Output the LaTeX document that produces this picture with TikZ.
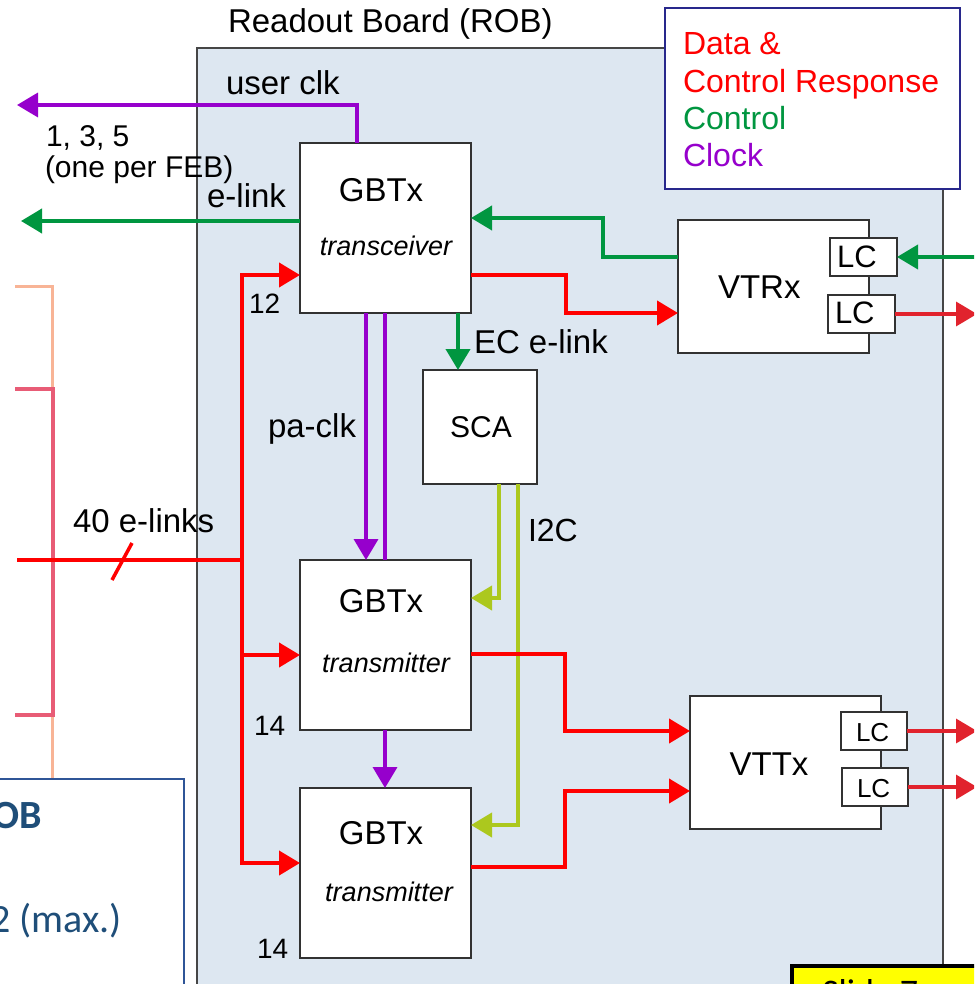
\documentclass[tikz,border=0pt]{standalone}
\usepackage{fontspec}
\setmainfont{Liberation Sans}
\newfontfamily\calfont{Carlito}
\usetikzlibrary{arrows.meta,calc}
\newcommand\myfs[1]{\fontsize{#1}{#1}\selectfont}
\definecolor{boardfill}{RGB}{221,231,241}
\definecolor{boardline}{RGB}{70,70,70}
\definecolor{boxline}{RGB}{50,50,50}
\definecolor{dred}{RGB}{255,0,0}
\definecolor{lcred}{RGB}{225,35,45}
\definecolor{dgreen}{RGB}{0,150,64}
\definecolor{dpurple}{RGB}{150,0,204}
\definecolor{ygreen}{RGB}{172,200,30}
\definecolor{legblue}{RGB}{40,40,140}
\definecolor{salmonb}{RGB}{248,180,150}
\definecolor{pinkb}{RGB}{232,92,118}
\definecolor{textblue}{RGB}{31,78,121}
\definecolor{boxblue}{RGB}{47,85,151}
\definecolor{yellowbox}{RGB}{255,255,0}
\tikzset{
  chip/.style={draw=boxline, fill=white, line width=1.8pt, inner sep=0pt, outer sep=0pt, anchor=north west},
  lbl/.style={inner sep=0pt, outer sep=0pt},
  arr/.style={-{Triangle[length=21pt,width=24pt]}},
  dataln/.style={draw=dred, line width=4pt},
  lcln/.style={draw=lcred, line width=3.5pt},
  ctrlln/.style={draw=dgreen, line width=4pt},
  clkln/.style={draw=dpurple, line width=3.6pt},
  i2cln/.style={draw=ygreen, line width=4pt},
}
\begin{document}
\begin{tikzpicture}[x=1pt,y=-1pt]
\useasboundingbox (0,0) rectangle (974,984);
\clip (0,0) rectangle (974,984);
\fill[white] (0,0) rectangle (974,984);

% left brackets
\draw[salmonb, line width=3pt] (15,286) -- (52,286) -- (52,990);
\draw[pinkb, line width=3.5pt] (15,389) -- (53,389) -- (53,715) -- (15,715);

% board
\node[name=board, draw=boardline, fill=boardfill, line width=1.5pt, anchor=north west,
      minimum width=746pt, minimum height=1000pt, inner sep=0pt, outer sep=0pt] at (197,48) {};
\node[lbl, name=boardlbl, anchor=base west, font=\myfs{33}] at (228,33) {Readout Board (ROB)};

% legend
\node[name=legend, draw=legblue, fill=white, line width=2pt, anchor=north west,
      minimum width=295pt, minimum height=181pt, inner sep=0pt] at (664,7) {};
\node[lbl, name=leg1, anchor=base west, font=\myfs{32}, text=dred] at (683,55) {Data \&};
\node[lbl, name=leg2, anchor=base west, font=\myfs{32}, text=dred] at (683,93) {Control Response};
\node[lbl, name=leg3, anchor=base west, font=\myfs{32}, text=dgreen] at (683,130) {Control};
\node[lbl, name=leg4, anchor=base west, font=\myfs{32}, text=dpurple] at (683,167) {Clock};

% bottom-left box
\node[name=robbox, draw=boxblue, fill=white, line width=1.5pt, anchor=north west,
      minimum width=200pt, minimum height=300pt, inner sep=0pt] at (-17,778) {};
\node[lbl, name=robtxt, anchor=base east, font=\calfont\bfseries\myfs{40}, text=textblue] at (42,828) {ROB};
\node[lbl, name=maxtxt, anchor=base east, font=\calfont\myfs{40}, text=textblue] at (122,932) {12 (max.)};

% yellow box
\node[name=slide, draw=black, fill=yellowbox, line width=4pt, anchor=north west,
      minimum width=220pt, minimum height=60pt, inner sep=0pt] at (790,964) {};
\node[lbl, name=slidetxt, anchor=north west, font=\calfont\myfs{36}] at (822,979) {Slide 7};

% chips
\node[chip, name=gbt1, minimum width=171pt, minimum height=170pt] at (300,143) {};
\node[chip, name=gbt2, minimum width=171pt, minimum height=170pt] at (300,560) {};
\node[chip, name=gbt3, minimum width=171pt, minimum height=170pt] at (300,788) {};
\node[chip, name=sca, minimum width=114pt, minimum height=114pt] at (423,370) {};
\node[chip, name=vtrx, minimum width=191pt, minimum height=133pt] at (678,220) {};
\node[chip, name=lc1, minimum width=67pt, minimum height=38pt] at (830,238) {};
\node[chip, name=lc2, minimum width=67pt, minimum height=38pt] at (828,295) {};
\node[chip, name=vttx, minimum width=191pt, minimum height=133pt] at (690,696) {};
\node[chip, name=lc3, minimum width=66pt, minimum height=38pt] at (841,712) {};
\node[chip, name=lc4, minimum width=66pt, minimum height=38pt] at (842,768) {};

% chip texts
\node[lbl, name=g1a, anchor=base, font=\myfs{33}] at (381,202) {GBTx};
\node[lbl, name=g1b, anchor=base, font=\itshape\myfs{27}] at (386,255) {transceiver};
\node[lbl, name=g2a, anchor=base, font=\myfs{33}] at (381,612) {GBTx};
\node[lbl, name=g2b, anchor=base, font=\itshape\myfs{27}] at (386,672) {transmitter};
\node[lbl, name=g3a, anchor=base, font=\myfs{33}] at (381,844) {GBTx};
\node[lbl, name=g3b, anchor=base, font=\itshape\myfs{27}] at (389,901) {transmitter};
\node[lbl, name=scat, anchor=base, font=\myfs{30}] at (481,437) {SCA};
\node[lbl, name=vtrxt, anchor=base west, font=\myfs{33}] at (718,298) {VTRx};
\node[lbl, name=lc1t, anchor=base west, font=\myfs{31}] at (837,267) {LC};
\node[lbl, name=lc2t, anchor=base west, font=\myfs{31}] at (835,323) {LC};
\node[lbl, name=vttxt, anchor=base, font=\myfs{33}] at (769,775) {VTTx};
\node[lbl, name=lc3t, anchor=base west, font=\myfs{26}] at (856,741) {LC};
\node[lbl, name=lc4t, anchor=base west, font=\myfs{26}] at (857,797) {LC};

% labels
\node[lbl, name=uclk, anchor=base west, font=\myfs{33}] at (226,95) {user clk};
\node[lbl, name=n135, anchor=base west, font=\myfs{30}] at (46,147) {1, 3, 5};
\node[lbl, name=perfeb, anchor=base west, font=\myfs{30}] at (45,178) {(one per FEB)};
\node[lbl, name=elinkl, anchor=base east, font=\myfs{33}] at (286,208) {e-link};
\node[lbl, name=n12, anchor=base west, font=\myfs{28}] at (249,313) {12};
\node[lbl, name=paclk, anchor=base west, font=\myfs{33}] at (268,437) {pa-clk};
\node[lbl, name=ecl, anchor=base west, font=\myfs{33}] at (474,353) {EC e-link};
\node[lbl, name=i2cl, anchor=base west, font=\myfs{32}] at (528,541) {I2C};
\node[lbl, name=elinks40, anchor=base west, font=\myfs{33}] at (73,532) {40 e-links};
\node[lbl, name=n14a, anchor=base west, font=\myfs{28}] at (254,735) {14};
\node[lbl, name=n14b, anchor=base west, font=\myfs{28}] at (257,958) {14};

% free ends
\coordinate (ucend) at (17,105);
\coordinate (elend) at (21,221);
\coordinate (ctrlin) at (995,257);
\coordinate (vtrxout) at (977,314);
\coordinate (vttxout1) at (977,731);
\coordinate (vttxout2) at (977,787);
\coordinate (elinksin) at (17,560);
\coordinate (bus) at (242,560);

% clock
\draw[clkln, arr] ($(gbt1.north west)+(57,0)$) |- (ucend);
\draw[clkln, arr] ($(gbt1.south west)+(66,0)$) -- ($(gbt2.north west)+(66,0)$);
\draw[clkln] ($(gbt1.south west)+(85,0)$) -- ($(gbt2.north west)+(85,0)$);
\draw[clkln, arr] ($(gbt2.south west)+(85,0)$) -- ($(gbt3.north west)+(85,0)$);

% control
\draw[ctrlln, arr] ($(gbt1.north west)+(0,78)$) -- (elend);
\draw[ctrlln, arr] ($(vtrx.north west)+(0,37)$) -- ++(-75,0) |- ($(gbt1.north east)+(0,75)$);
\draw[ctrlln, arr] (ctrlin) -- (lc1.east);
\draw[ctrlln, arr] ($(gbt1.south west)+(158,0)$) -- ($(sca.north west)+(35,0)$);

% i2c
\draw[i2cln, arr] ($(sca.south west)+(76,0)$) |- ($(gbt2.north east)+(0,38)$);
\draw[i2cln, arr] ($(sca.south west)+(95,0)$) |- ($(gbt3.north east)+(0,37)$);

% data
\draw[dataln] (elinksin) -- (bus);
\draw[dred, line width=3.5pt] (112,580) -- (132,543);
\draw[dataln, arr] (bus) |- ($(gbt1.north west)+(0,132)$);
\draw[dataln, arr] (bus) |- ($(gbt2.north west)+(0,95)$);
\draw[dataln, arr] (bus) |- ($(gbt3.north west)+(0,75)$);
\draw[dataln, arr] ($(gbt1.north east)+(0,132)$) -- ++(95,0) |- ($(vtrx.north west)+(0,93)$);
\draw[dataln, arr] ($(gbt2.north east)+(0,94)$) -- ++(94,0) |- ($(vttx.north west)+(0,35)$);
\draw[dataln, arr] ($(gbt3.north east)+(0,79)$) -- ++(94,0) |- ($(vttx.north west)+(0,95)$);
\draw[lcln, arr] (lc2.east) -- (vtrxout);
\draw[lcln, arr] (lc3.east) -- (vttxout1);
\draw[lcln, arr] (lc4.east) -- (vttxout2);
\end{tikzpicture}
\end{document}
